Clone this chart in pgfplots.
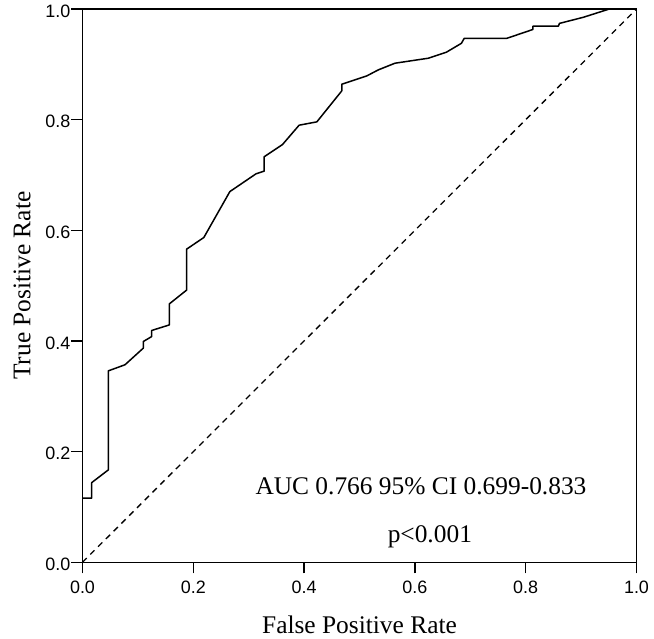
\documentclass[border=0pt]{standalone}
\usepackage{pgfplots}
\pgfplotsset{compat=1.18}
\usepackage{fontspec}
\setmainfont{Liberation Serif}
\newfontfamily\ticksans{Liberation Sans}
\begin{document}
\begin{tikzpicture}
\path[use as bounding box] (-82.5bp,-76.7bp) rectangle (571.5bp,562.3bp);
\begin{axis}[
  at={(0,0)}, anchor=south west,
  scale only axis,
  width=554bp, height=553.3bp,
  xmin=0, xmax=1, ymin=0, ymax=1,
  xtick={0,0.2,...,1.0}, ytick={0,0.2,...,1.0},
  tick align=outside,
  xtick pos=bottom, ytick pos=left,
  major tick length=11bp,
  axis line style={line width=1.3bp},
  every tick/.style={black, line width=1.3bp},
  /pgf/number format/assume math mode=true,
  /pgf/number format/.cd, fixed, fixed zerofill, precision=1,
  /pgfplots/.cd,
  tick label style={font=\ticksans\fontsize{18}{18}\selectfont},
  yticklabel style={inner sep=1bp, yshift=-2bp},
  xticklabel style={inner sep=1bp, yshift=-6bp},
  xlabel={False Positive Rate},
  ylabel={True Positive Rate},
  label style={font=\fontsize{25.5}{25.5}\selectfont},
  xlabel style={at={(axis description cs:0.5,0)}, anchor=center, yshift=-62.7bp},
  ylabel style={at={(axis description cs:0,0.5)}, anchor=center, yshift=60.5bp},
  clip=false,
]
\addplot[black, line width=1.5bp, line join=round] coordinates {
(0,0.116) (0.0166,0.116) (0.0166,0.144) (0.0466,0.167) (0.0466,0.346)
(0.0767,0.357) (0.1097,0.387) (0.1097,0.399) (0.1249,0.408) (0.1249,0.419)
(0.1567,0.429) (0.1567,0.467) (0.188,0.492) (0.188,0.566) (0.219,0.587)
(0.266,0.670) (0.313,0.702) (0.328,0.707) (0.328,0.733) (0.361,0.755)
(0.391,0.790) (0.423,0.796) (0.468,0.852) (0.468,0.864) (0.513,0.879)
(0.534,0.890) (0.564,0.902) (0.624,0.911) (0.657,0.922) (0.684,0.938)
(0.689,0.947) (0.766,0.947) (0.813,0.963) (0.813,0.969) (0.859,0.969)
(0.861,0.974) (0.904,0.985) (0.951,1.0) (1,1)
};
\addplot[black, line width=1.3bp, dash pattern=on 6bp off 5bp] coordinates {(0,0) (1,1)};
\node[anchor=base, font=\fontsize{25.5}{25.5}\selectfont, inner sep=0pt] at (axis cs:0.611,0.123) {AUC 0.766 95\% CI 0.699-0.833};
\node[anchor=base, font=\fontsize{25.5}{25.5}\selectfont, inner sep=0pt] at (axis cs:0.627,0.035) {p<0.001};
\end{axis}
\end{tikzpicture}
\end{document}
